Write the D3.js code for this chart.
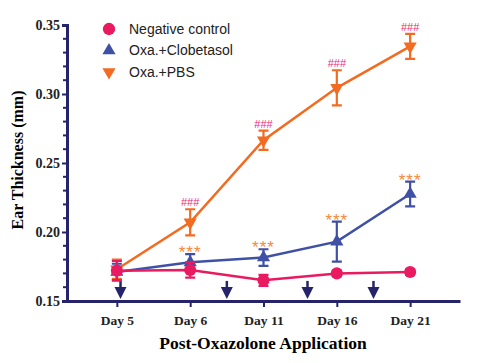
<!DOCTYPE html>
<head>
  <meta charset="utf-8">
  <style>
    body { margin:0; background:#fff; }
    .legend text { font-family:"Liberation Sans", Arial, sans-serif; font-size:14px; fill:#222; }
  </style>
</head>
<body>
<script src="https://d3js.org/d3.v7.min.js"></script>
<script>

// DATA
var days = ["Day 5", "Day 6", "Day 11", "Day 16", "Day 21"];
var seriesNames = ["Negative control", "Oxa.+Clobetasol", "Oxa.+PBS"];
var negMean = [0.172, 0.1725, 0.165, 0.170, 0.171];
var negErr  = [0.007, 0.0055, 0.004, 0.002, 0.002];
var clobMean = [0.171, 0.178, 0.1815, 0.193, 0.2275];
var clobErr  = [0.006, 0.006, 0.006, 0.0145, 0.009];
var pbsMean = [0.173, 0.207, 0.2665, 0.3045, 0.3345];
var pbsErr  = [0.007, 0.0095, 0.007, 0.0127, 0.009];
var hashMarks = ["", "###", "###", "###", "###"];   // above PBS
var starMarks = ["", "***", "***", "***", "***"];   // above Clobetasol
var arrowAt = [0.05, 1.5, 2.6, 3.5];                 // application days, in day-index units
var yTicks = [0.15, 0.20, 0.25, 0.30, 0.35];

var width = 500, height = 363;
var navy = "#25246b";
var colors = ["#ea1a60", "#3f51a5", "#f26b21"];
var serif = "'Liberation Serif', 'Times New Roman', serif";
var sans = "'Liberation Sans', Arial, sans-serif";

var svg = d3.select("body").append("svg")
  .attr("width", width)
  .attr("height", height);

// SCALES
var x = d3.scalePoint().domain(days).range([67, 460]).padding(0.68);
var y = d3.scaleLinear().domain([0.15, 0.35]).range([301, 25]);
var xi = d3.scaleLinear().domain([0, days.length - 1]).range([x(days[0]), x(days[days.length - 1])]);

// AXES
var yAxis = svg.append("g")
  .attr("transform", "translate(67,0)")
  .call(d3.axisLeft(y).tickValues(yTicks).tickFormat(d3.format(".2f")).tickSize(5).tickPadding(2));
yAxis.selectAll("text")
  .style("font-family", serif).style("font-weight", "bold").style("font-size", "14px")
  .attr("fill", "#222");

// minor ticks every 0.01
svg.append("g").selectAll("line")
  .data(d3.range(0.15, 0.3501, 0.01).filter(function(d) { return Math.round(d * 100) % 5 !== 0; }))
  .enter().append("line")
    .attr("x1", 63).attr("x2", 67)
    .attr("y1", function(d) { return y(d); }).attr("y2", function(d) { return y(d); })
    .attr("stroke", navy).attr("stroke-width", 2);

var xAxis = svg.append("g")
  .attr("transform", "translate(0,301)")
  .call(d3.axisBottom(x).tickSize(6).tickPadding(8).tickSizeOuter(0));
xAxis.selectAll("text")
  .style("font-family", serif).style("font-weight", "bold").style("font-size", "13.5px")
  .attr("fill", "#222");

svg.selectAll(".domain").attr("stroke", navy).attr("stroke-width", 3);
svg.selectAll(".tick line").attr("stroke", navy).attr("stroke-width", 2);

// TITLES
svg.append("text")
  .attr("transform", "translate(23,160) rotate(-90)")
  .attr("text-anchor", "middle")
  .style("font-family", serif)
  .style("font-weight", "bold").style("font-size", "16px")
  .text("Ear Thickness (mm)");

svg.append("text")
  .attr("x", 263).attr("y", 349)
  .attr("text-anchor", "middle")
  .style("font-family", serif)
  .style("font-weight", "bold").style("font-size", "17.5px")
  .text("Post-Oxazolone Application");

// ARROWS (application days)
var arrows = svg.append("g").selectAll("g")
  .data(arrowAt)
  .enter().append("g")
  .attr("transform", function(d) { return "translate(" + xi(d) + "," + y(0.1515) + ")"; });
arrows.append("line")
  .attr("x1", 0).attr("x2", 0).attr("y1", -18).attr("y2", -10)
  .attr("stroke", navy).attr("stroke-width", 2.5);
arrows.append("path")
  .attr("d", "M-6,-12L6,-12L0,0Z")
  .attr("fill", navy);

// SERIES
var series = [
  { mean: pbsMean, err: pbsErr, color: colors[2], sym: d3.symbolTriangle, rot: 180, size: 75 },
  { mean: clobMean, err: clobErr, color: colors[1], sym: d3.symbolTriangle, rot: 0, size: 75 },
  { mean: negMean, err: negErr, color: colors[0], sym: d3.symbolCircle, rot: 0, size: 115 }
];

var line = d3.line()
  .x(function(d, i) { return x(days[i]); })
  .y(function(d) { return y(d); });

series.forEach(function(s) {
  var g = svg.append("g");
  g.append("path")
    .datum(s.mean)
    .attr("d", line)
    .attr("fill", "none")
    .attr("stroke", s.color)
    .attr("stroke-width", 2.5);

  var pts = g.selectAll("g.pt")
    .data(s.mean)
    .enter().append("g")
    .attr("class", "pt")
    .attr("transform", function(d, i) { return "translate(" + x(days[i]) + ",0)"; });

  pts.append("path")
    .attr("d", function(d, i) {
      var t = y(d + s.err[i]), b = y(d - s.err[i]);
      return "M-5," + t + "H5M0," + t + "V" + b + "M-5," + b + "H5";
    })
    .attr("fill", "none")
    .attr("stroke", s.color)
    .attr("stroke-width", 2.2);

  pts.append("path")
    .attr("d", d3.symbol().type(s.sym).size(s.size))
    .attr("transform", function(d) { return "translate(0," + y(d) + ") rotate(" + s.rot + ")"; })
    .attr("fill", s.color);
});

// SIGNIFICANCE MARKS
svg.append("g").selectAll("text")
  .data(pbsMean)
  .enter().append("text")
    .attr("x", function(d, i) { return x(days[i]); })
    .attr("y", function(d, i) { return y(d + pbsErr[i]) - 3; })
    .attr("text-anchor", "middle")
    .style("font-family", sans)
    .style("font-size", "11px")
    .attr("fill", "#ec2a7a")
    .text(function(d, i) { return hashMarks[i]; });

svg.append("g").selectAll("text")
  .data(clobMean)
  .enter().append("text")
    .attr("x", function(d, i) { return x(days[i]); })
    .attr("y", function(d, i) { return y(d + clobErr[i]) + 4; })
    .attr("text-anchor", "middle")
    .style("font-family", sans)
    .style("font-size", "17px")
    .style("letter-spacing", "1px")
    .attr("fill", "#f5893a")
    .text(function(d, i) { return starMarks[i]; });

// LEGEND
var legend = svg.append("g").attr("class", "legend")
  .selectAll("g")
  .data(seriesNames)
  .enter().append("g")
  .attr("transform", function(d, i) { return "translate(109," + (29 + i * 21.5) + ")"; });

var legendSym = [
  { sym: d3.symbolCircle, rot: 0, size: 120 },
  { sym: d3.symbolTriangle, rot: 0, size: 75 },
  { sym: d3.symbolTriangle, rot: 180, size: 75 }
];
legend.append("path")
  .attr("d", function(d, i) { return d3.symbol().type(legendSym[i].sym).size(legendSym[i].size)(); })
  .attr("transform", function(d, i) { return "rotate(" + legendSym[i].rot + ")"; })
  .attr("fill", function(d, i) { return colors[i]; });
legend.append("text")
  .attr("x", 20).attr("dy", "0.35em")
  .text(function(d) { return d; });

</script>
</body>
